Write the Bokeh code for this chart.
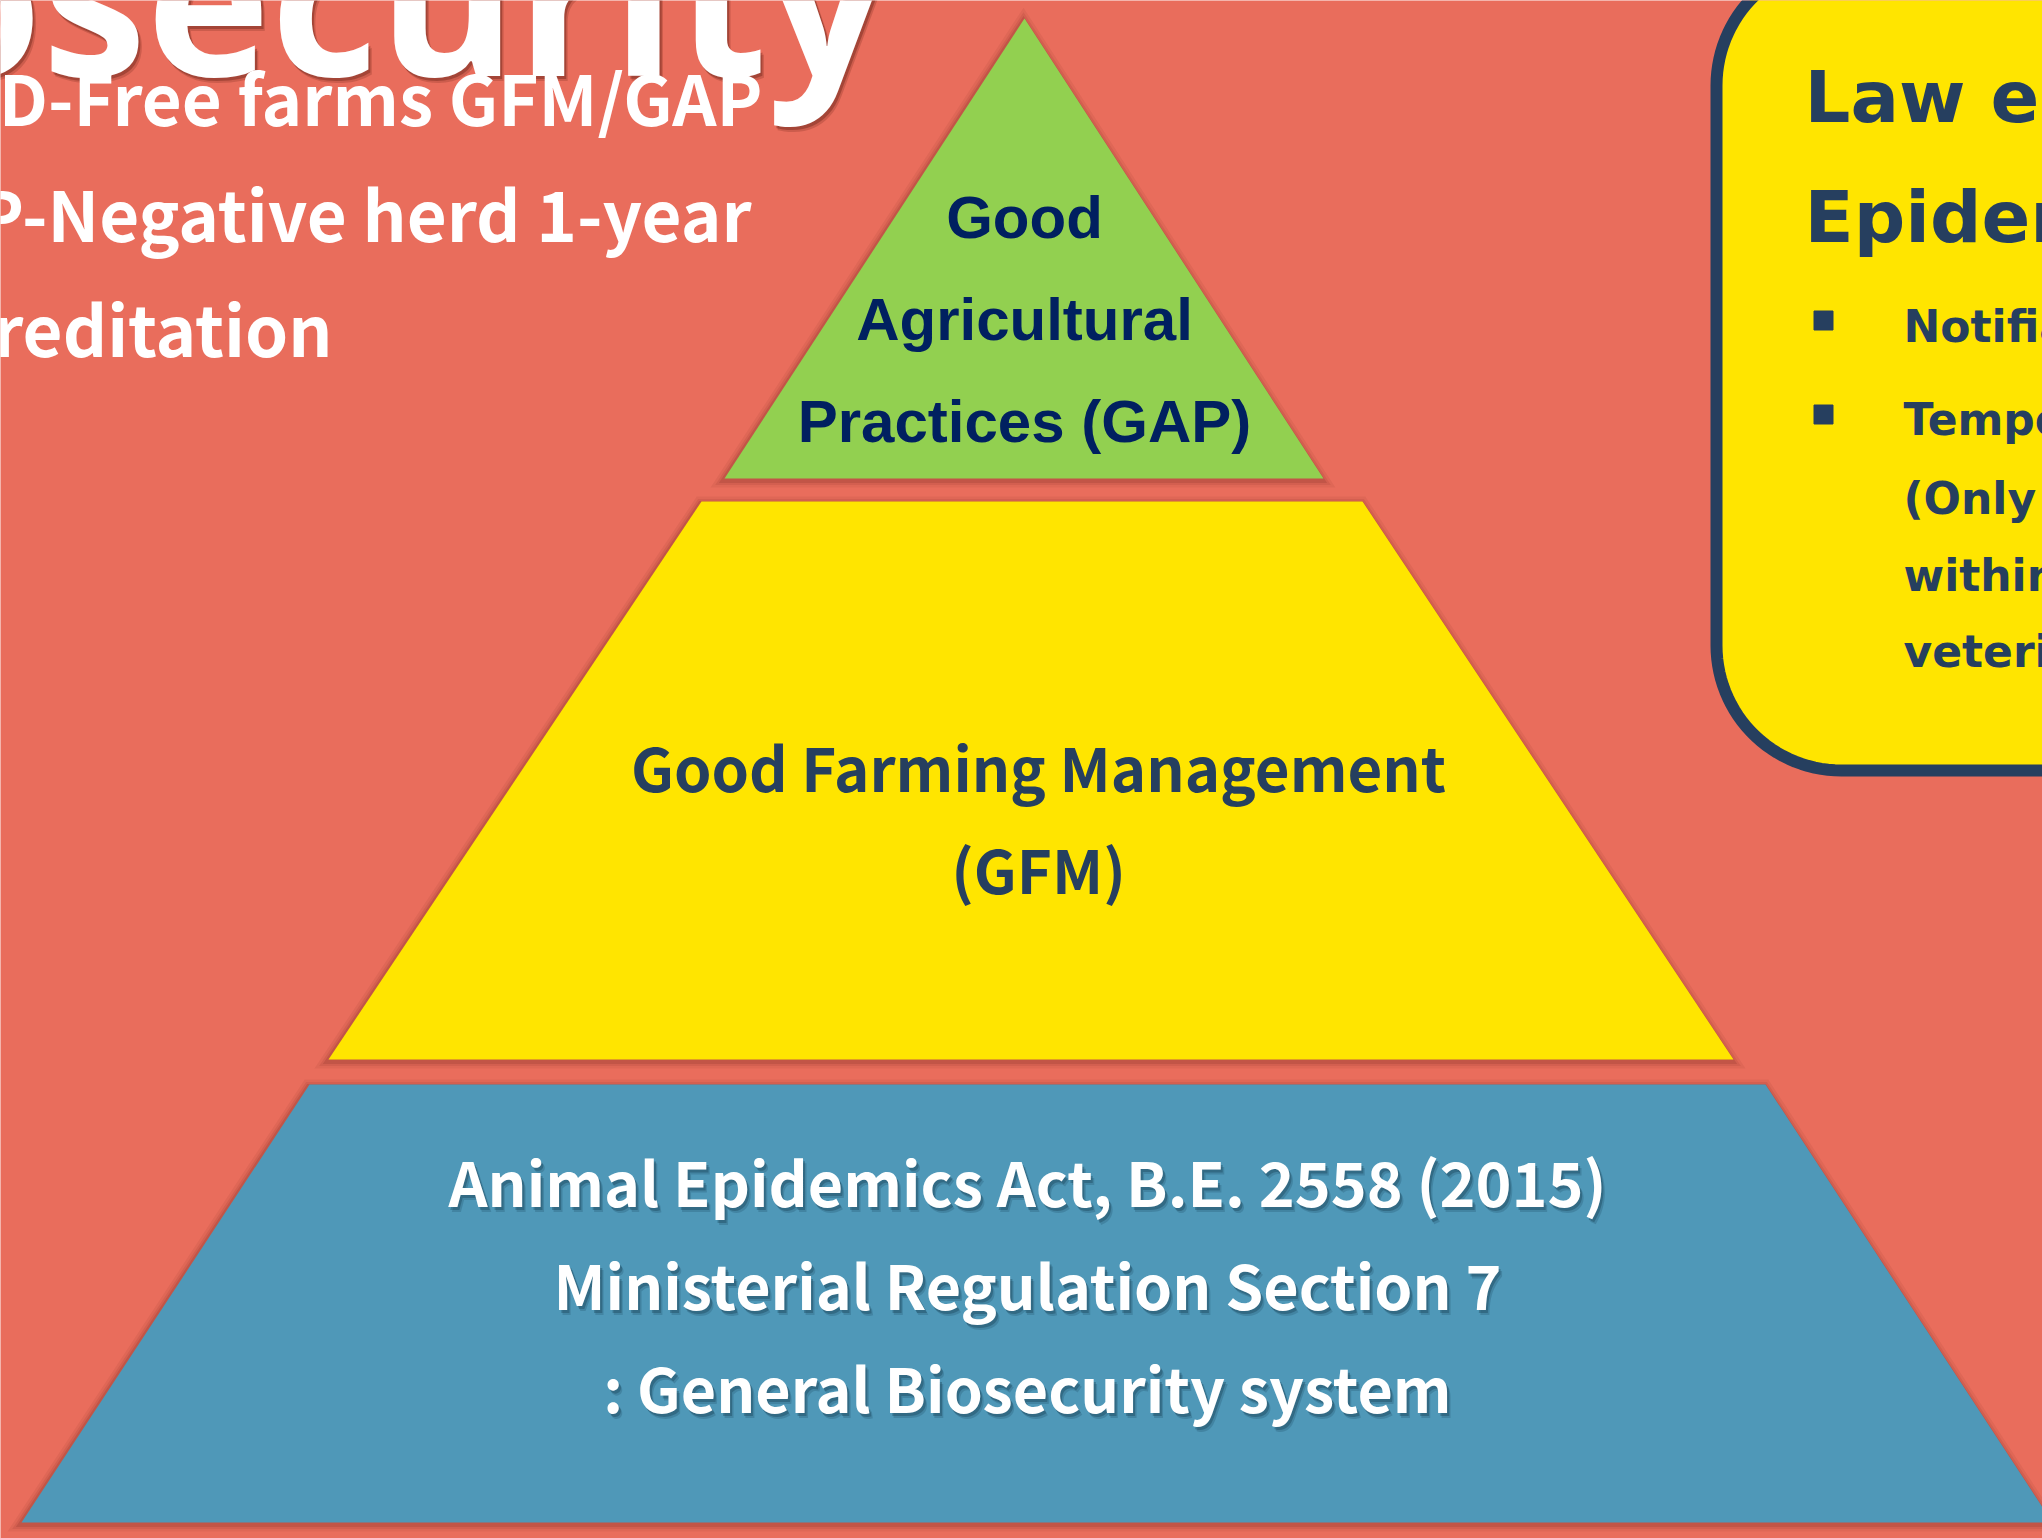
import numpy as np
from bokeh.plotting import figure
from bokeh.models import Range1d, ColumnDataSource
from bokeh.core.properties import value
from bokeh.embed import file_html
from bokeh.resources import INLINE

# ---------------- data ----------------
BG = "#E96D5C"
NAVY = "#263F5F"
tier_names = ["GAP", "GFM", "Law"]
tier_colors = ["#92D050", "#FFE500", "#4F98B8"]
tier_top_y = [18, 501, 1084]
tier_bot_y = [478, 1059, 1522]
tier_top_left = [1024, 701, 309]
tier_top_right = [1024, 1362, 1765]
tier_bot_left = [724, 328, 21]
tier_bot_right = [1323, 1733, 2052]

gap_lines = ["Good", "Agricultural", "Practices (GAP)"]
gap_x = [1024, 1024, 1024]
gap_y = [217, 319, 421]

gfm_lines = ["Good Farming Management", "(GFM)"]
gfm_x = [1038, 1038]
gfm_y = [765, 867]

law_lines = ["Animal Epidemics Act, B.E. 2558 (2015)",
             "Ministerial Regulation Section 7",
             ": General Biosecurity system"]
law_x = [1027, 1027, 1027]
law_y = [1180, 1283, 1386]

title_text = "Biosecurity"
title_x = 886
title_y = -6

sub_lines = ["D-Free farms GFM/GAP", "P-Negative herd 1-year", "Accreditation"]
sub_x = [762, 751, 332]
sub_y = [95, 211, 326]

box_left, box_right, box_top, box_bottom, box_r = 1716, 2250, -40, 770, 125
box_lines = ["Law enforcement", "Epidemics Act", "Notifiable", "Temporary",
             "(Only the", "within the", "veterinarian"]
box_x = [1804, 1804, 1903, 1903, 1903, 1903, 1903]
box_y = [96, 216, 326, 419, 498, 575, 651]
box_sizes = ["72px", "72px", "44px", "44px", "44px", "44px", "44px"]
bullet_x = [1823, 1823]
bullet_y = [320, 414]

# ---------------- figure ----------------
W, H = 2042, 1538
p = figure(width=W, height=H, x_range=Range1d(0, W), y_range=Range1d(H, 0),
           output_backend="svg", toolbar_location=None, min_border=0)
p.axis.visible = False
p.grid.visible = False
p.outline_line_color = None
p.background_fill_color = BG
p.border_fill_color = BG

# pyramid tiers with soft outer shadows
for i in range(3):
    xs = [tier_top_left[i], tier_top_right[i], tier_bot_right[i], tier_bot_left[i]]
    ys = [tier_top_y[i], tier_top_y[i], tier_bot_y[i], tier_bot_y[i]]
    for lw, a in [(14, 0.06), (9, 0.08), (5, 0.12)]:
        p.patch([x - 1 for x in xs], [y + 2 for y in ys], fill_color=None,
                line_color="#4a0f08", line_alpha=a, line_width=lw, line_join="miter")
    p.patch(xs, ys, fill_color=tier_colors[i], line_color=None)

# rounded box on the right
def rounded_box(l, r, t, b, rad):
    px, py = [], []
    th = np.linspace(np.pi, 1.5 * np.pi, 30)
    px += list(l + rad + rad * np.cos(th)); py += list(t + rad + rad * np.sin(th))
    px += [r, r]; py += [t, b]
    th = np.linspace(0.5 * np.pi, np.pi, 30)
    px += list(l + rad + rad * np.cos(th)); py += list(b - rad + rad * np.sin(th))
    return px, py

bx, by = rounded_box(box_left, box_right, box_top, box_bottom, box_r)
p.patch(bx, by, fill_color="#FFE500", line_color=NAVY, line_width=12)
p.scatter(bullet_x, bullet_y, marker="square", size=19, color=NAVY)

def add_text(lines, xs, ys, size, font, color, align="center", shadow=None, sizes=None):
    ss = sizes if sizes else [size] * len(lines)
    if shadow:
        for off, a in [(5, 0.18), (3, 0.3)]:
            src2 = ColumnDataSource(dict(x=[x + off * 0.7 for x in xs], y=[y + off for y in ys],
                                         t=lines, s=ss))
            p.text("x", "y", text="t", source=src2, text_font=value(font), text_font_size="s",
                   text_font_style="bold", text_color=shadow, text_alpha=a,
                   text_align=align, text_baseline="alphabetic")
    src = ColumnDataSource(dict(x=xs, y=ys, t=lines, s=ss))
    p.text("x", "y", text="t", source=src, text_font=value(font), text_font_size="s",
           text_font_style="bold", text_color=color, text_align=align,
           text_baseline="alphabetic")

add_text([title_text], [title_x], [title_y], "210px", "Open Sans", "white", align="right", shadow="#4a1008")
add_text(sub_lines, sub_x, sub_y, "69px", "Noto Sans CJK KR", "white", align="right")
add_text(gap_lines, gap_x, gap_y, "60px", "Liberation Sans", "#002060")
add_text(gfm_lines, gfm_x, gfm_y, "60px", "Noto Sans CJK KR", NAVY)
add_text(law_lines, law_x, law_y, "61px", "Noto Sans CJK KR", "white", shadow="#0d2f40")
add_text(box_lines, box_x, box_y, "44px", "DejaVu Sans", NAVY, align="left", sizes=box_sizes)

open("out.html", "w").write(file_html(p, INLINE))
